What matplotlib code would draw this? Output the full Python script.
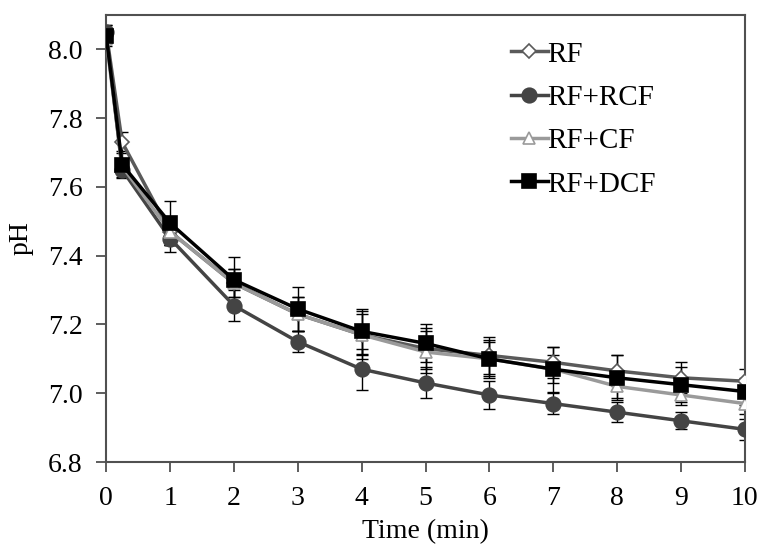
import matplotlib
matplotlib.use("Agg")
import matplotlib.pyplot as plt

# sampling times (min)
time_min = [0, 0.25, 1, 2, 3, 4, 5, 6, 7, 8, 9, 10]

ph_rf = [8.05, 7.73, 7.47, 7.32, 7.23, 7.17, 7.13, 7.11, 7.09, 7.065, 7.045, 7.035]
ph_rcf = [8.05, 7.65, 7.45, 7.255, 7.15, 7.07, 7.03, 6.995, 6.97, 6.945, 6.92, 6.895]
ph_cf = [8.03, 7.66, 7.47, 7.32, 7.23, 7.17, 7.12, 7.10, 7.07, 7.02, 6.995, 6.97]
ph_dcf = [8.04, 7.665, 7.495, 7.33, 7.245, 7.18, 7.145, 7.10, 7.07, 7.045, 7.025, 7.005]

err_rf = [0.02, 0.03, 0.04, 0.04, 0.05, 0.07, 0.06, 0.055, 0.045, 0.045, 0.045, 0.035]
err_rcf = [0.02, 0.02, 0.04, 0.045, 0.03, 0.06, 0.045, 0.04, 0.03, 0.03, 0.025, 0.03]
err_cf = [0.02, 0.02, 0.04, 0.04, 0.05, 0.06, 0.06, 0.05, 0.04, 0.035, 0.03, 0.03]
err_dcf = [0.02, 0.04, 0.065, 0.065, 0.065, 0.065, 0.055, 0.055, 0.065, 0.065, 0.05, 0.04]

plt.rcParams["font.family"] = ["Liberation Serif", "DejaVu Serif"]

fig = plt.figure(figsize=(7.64, 5.56), dpi=100)
ax = fig.add_axes([0.139, 0.169, 0.836, 0.804])

series = [
    ("RF", ph_rf, err_rf, "#5a5a5a", "D", "white", 7),
    ("RF+RCF", ph_rcf, err_rcf, "#444444", "o", "#444444", 10.5),
    ("RF+CF", ph_cf, err_cf, "#9a9a9a", "^", "white", 9),
    ("RF+DCF", ph_dcf, err_dcf, "#000000", "s", "#000000", 10.5),
]

for label, vals, errs, color, marker, face, size in series:
    ax.errorbar(time_min, vals, yerr=errs, fmt="none", ecolor="black",
                elinewidth=1.0, capsize=4.5, capthick=1.0, zorder=2)
    ax.plot(time_min, vals, color=color, linewidth=2.5, marker=marker,
            markersize=size, markerfacecolor=face, markeredgecolor=color,
            markeredgewidth=1.2, label=label, zorder=3)

ax.set_xlim(0, 10)
ax.set_ylim(6.8, 8.1)
ax.set_xticks(range(0, 11))
ax.set_yticks([6.8, 7.0, 7.2, 7.4, 7.6, 7.8, 8.0])
ax.set_yticklabels(["6.8", "7.0", "7.2", "7.4", "7.6", "7.8", "8.0"])

for side in ["left", "bottom", "top", "right"]:
    ax.spines[side].set_color("#505050")
    ax.spines[side].set_linewidth(1.5)
ax.tick_params(direction="out", length=7, width=1.3, color="#505050",
               labelsize=20)
ax.tick_params(axis="y", pad=10)
ax.tick_params(axis="x", pad=10)

ax.set_xlabel("Time (min)", fontsize=20, labelpad=6)
ax.set_ylabel("pH", fontsize=20, labelpad=10)

leg = ax.legend(loc="upper right", bbox_to_anchor=(0.902, 1.0), frameon=False,
                fontsize=21, handlelength=1.25, handletextpad=0.0,
                labelspacing=0.58)

fig.savefig("out.png", dpi=100)
